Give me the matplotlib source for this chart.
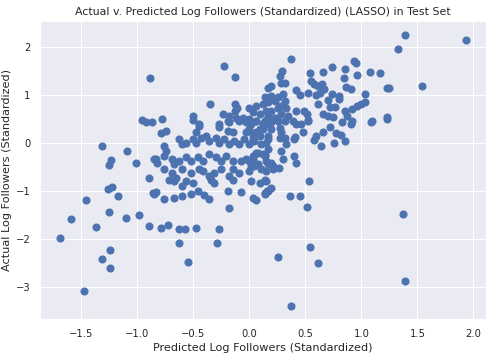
import matplotlib
matplotlib.use("Agg")
import matplotlib.pyplot as plt
import seaborn as sns

# predicted (x) and actual (y) standardized log followers
pred = [
    -0.889, -0.957, -0.927, -0.224, -0.132, -0.356, -0.508, -0.233, -0.126, -0.114, -0.126, 0.164,
    0.37, 0.29, 0.275, 0.284, 0.32, 0.195, 0.538, 0.657, 0.738, 0.852, 0.936, 0.951, 0.84, 0.963,
    1.079, 1.169, 0.553, 0.577, 0.613, 0.648, 0.666, 0.861, 0.906, 1.031, 0.419, 0.448, 0.523,
    0.598, 0.628, 0.733, 0.798, 0.613, 0.697, 0.717, 0.762, 0.798, 0.852, 0.912, 0.957, 1.00, 1.03,
    0.657, 0.702, 0.747, 0.867, 0.912, 1.09, 0.42, 0.49, 0.51, 0.52,
    1.393, 1.931, 1.33, 1.23, 1.25, 1.545, 1.231,
    -1.316, -1.09, -1.235, -1.25, -1.01, -0.852, -0.897, -1.262, -1.226, -1.175, -1.459, -0.858,
    -1.253, -1.1, -0.984, -1.594, -1.369, -0.897,
    -1.689, -1.244, -1.316, -1.244, -1.474,
    -0.79, -0.73, -0.628, -0.574, -0.478, -0.269, -0.628, -0.293, -0.553,
    0.254, 0.541, 0.613, 0.371, 1.393, 1.375, 1.226,
    0.529, 0.361, 0.451, 0.514, 1.088, 0.909, 0.828, 0.72, 0.661, 0.598, 0.577, 0.643, 0.777, 0.816,
    0.756, 0.852, 0.478, 0.397, 0.41, 0.323, 0.278, 0.299, 0.397, 0.419, 0.195, 0.209, 0.26, 0.209,
    0.15, 0.188, 0.159, 0.135,
    0.195, 0.254, 0.269, 0.284, 0.269, 0.314, 0.164, 0.15, 0.389, 0.419, 0.463, 0.523, 0.195,
    0.135, 0.15, 0.165,
    -0.79, -0.747, -0.448, -0.478, -0.508, -0.269, -0.186, -0.149, -0.194,
    -0.09, -0.03, 0.0, 0.03, -0.03, 0.09, 0.12,
    -0.628, -0.598, -0.568, -0.508, -0.478, -0.433, -0.388, -0.359, -0.299, -0.269, -0.224, -0.179,
    -0.135, -0.09, -0.045, 0.0, 0.03, 0.09, 0.15,
    -0.762, -0.747, -0.762, -0.837, -0.822,
    -0.688, -0.673, -0.628, -0.568, -0.523, -0.463, -0.419, -0.359, -0.299, -0.254, -0.209, -0.149,
    -0.075, -0.03, 0.03, 0.075, 0.135,
    -0.762, -0.688, -0.658, -0.598, -0.523, -0.448, -0.419, -0.359, -0.314, -0.254, -0.149, -0.09,
    0.0, 0.045, 0.105, 0.15,
    -0.717, -0.673, -0.568, -0.508, -0.343, -0.314, -0.179, -0.149,
    -0.598, -0.523, -0.598, -0.673, -0.762, -0.837, -0.852,
    -0.463, -0.404, -0.365, -0.194, -0.075, -0.186,
    0.015, 0.09, 0.135, 0.03, 0.06, 0.135, 0.164,
    0.135, 0.195, 0.224, 0.254, 0.3, 0.314, 0.284, 0.329, 0.195, 0.254, 0.164, 0.224, 0.284, 0.344,
    0.314, 0.135,
    0.0, 0.06, 0.12, 0.164, 0.03, 0.09, 0.15, -0.06, 0.0, 0.06, -0.179, -0.12, -0.194, -0.269, -0.448,
    0.015, 0.06, 0.135, 0.0, 0.06, 0.12, 0.164, 0.045, 0.105, 0.164, 0.06, 0.12, 0.03, 0.075, 0.015, 0.0,
    -0.78, -0.87,
]
actual = [
    1.34, 0.47, 0.43, 1.59, 1.36, 0.81, 0.55, 0.59, 0.80, 0.73, 0.66, 1.13,
    1.74, 1.49, 1.39, 1.25, 1.25, 1.18, 1.44, 1.46, 1.57, 1.53, 1.69, 1.66, 1.34, 1.40,
    1.48, 1.44, 1.29, 1.22, 1.18, 1.23, 1.11, 1.15, 1.11, 1.01, 1.09, 0.99, 1.03,
    0.99, 1.04, 1.01, 0.97, 0.81, 0.88, 0.74, 0.74, 0.90, 0.66, 0.70, 0.76, 0.81, 0.84,
    0.59, 0.56, 0.53, 0.56, 0.45, 0.44, 0.66, 0.66, 0.59, 0.47,
    2.25, 2.13, 1.94, 1.13, 1.13, 1.17, 0.54,
    -0.08, -0.17, -0.37, -0.47, -0.42, -0.35, -0.73, -0.975, -0.93, -1.11, -1.20, -1.06,
    -1.455, -1.57, -1.50, -1.59, -1.75, -1.73,
    -1.98, -2.23, -2.42, -2.61, -3.09,
    -1.79, -1.72, -1.81, -1.81, -1.77, -1.81, -2.09, -2.09, -2.48,
    -2.39, -2.17, -2.51, -3.40, -2.88, -1.48, 0.49,
    -0.81, -1.11, -1.11, -1.34, 0.42, 0.38, 0.42, 0.33, 0.21, 0.14, 0.05, -0.07, 0.19, 0.15,
    0.0, 0.03, 0.21, 0.08, 0.12, -0.04, -0.17, -0.35, -0.28, -0.42, -0.42, -0.49, -0.52, -0.56,
    -0.80, -0.94, -1.01, -1.06,
    0.42, 0.45, 0.31, 0.21, 0.10, 0.10, 0.07, 0.38, 0.45, 0.38, 0.38, 0.45, 0.28,
    -0.25, -0.38, -0.45,
    0.19, 0.24, 0.35, 0.21, 0.47, 0.33, 0.42, 0.21, 0.24,
    0.45, 0.42, 0.28, 0.14, 0.21, 0.28, 0.38,
    0.07, -0.04, 0.0, 0.07, 0.0, 0.10, 0.14, 0.03, 0.10, 0.0, 0.07, -0.04,
    0.03, -0.04, 0.07, -0.04, 0.07, 0.14, 0.0,
    -0.07, -0.17, -0.28, -0.35, -0.42,
    -0.35, -0.45, -0.38, -0.31, -0.38, -0.31, -0.38, -0.24, -0.31, -0.38, -0.28, -0.38,
    -0.38, -0.35, -0.28, -0.21, -0.28,
    -0.56, -0.63, -0.73, -0.56, -0.63, -0.56, -0.59, -0.70, -0.63, -0.56, -0.56, -0.63,
    -0.38, -0.49, -0.56, -0.59,
    -0.77, -0.80, -0.80, -0.835, -0.77, -0.835, -0.70, -0.77,
    -0.91, -1.08, -1.11, -1.16, -1.18, -1.04, -1.08,
    -1.01, -1.10, -1.18, -1.0, -1.02, -1.36,
    -0.80, -0.835, -0.77, -1.15, -1.20, -1.08, -1.01,
    0.94, 0.97, 0.87, 0.94, 1.01, 0.87, 0.76, 0.73, 0.66, 0.73, 0.56, 0.52, 0.59, 0.56,
    0.45, 0.45,
    0.73, 0.76, 0.80, 0.84, 0.63, 0.59, 0.66, 0.52, 0.49, 0.45, 0.56, 0.52, 0.45, 0.38, 0.38,
    0.38, 0.45, 0.45, 0.24, 0.21, 0.28, 0.14, 0.03, -0.04, -0.14, -0.21, -0.24, -0.35, -0.45, -0.49, -0.59,
    0.49, 0.42,
]

sns.set()
plt.rcParams['font.family'] = ['DejaVu Sans']

fig = plt.figure(figsize=(493 / 72, 357 / 72), dpi=72)
ax = fig.add_axes([40 / 493, 1 - 319.3 / 357, 446 / 493, 298.3 / 357])
ax.scatter(pred, actual, s=50, color="#4C72B0")
ax.set_xticks([-1.5, -1.0, -0.5, 0.0, 0.5, 1.0, 1.5, 2.0])
ax.set_yticks([-3, -2, -1, 0, 1, 2])
ax.tick_params(labelsize=10)
ax.set_title("Actual v. Predicted Log Followers (Standardized) (LASSO) in Test Set", fontsize=11)
ax.set_xlabel("Predicted Log Followers (Standardized)", fontsize=11.2)
ax.set_ylabel("Actual Log Followers (Standardized)", fontsize=11.2)
fig.savefig("out.png", dpi=72)
